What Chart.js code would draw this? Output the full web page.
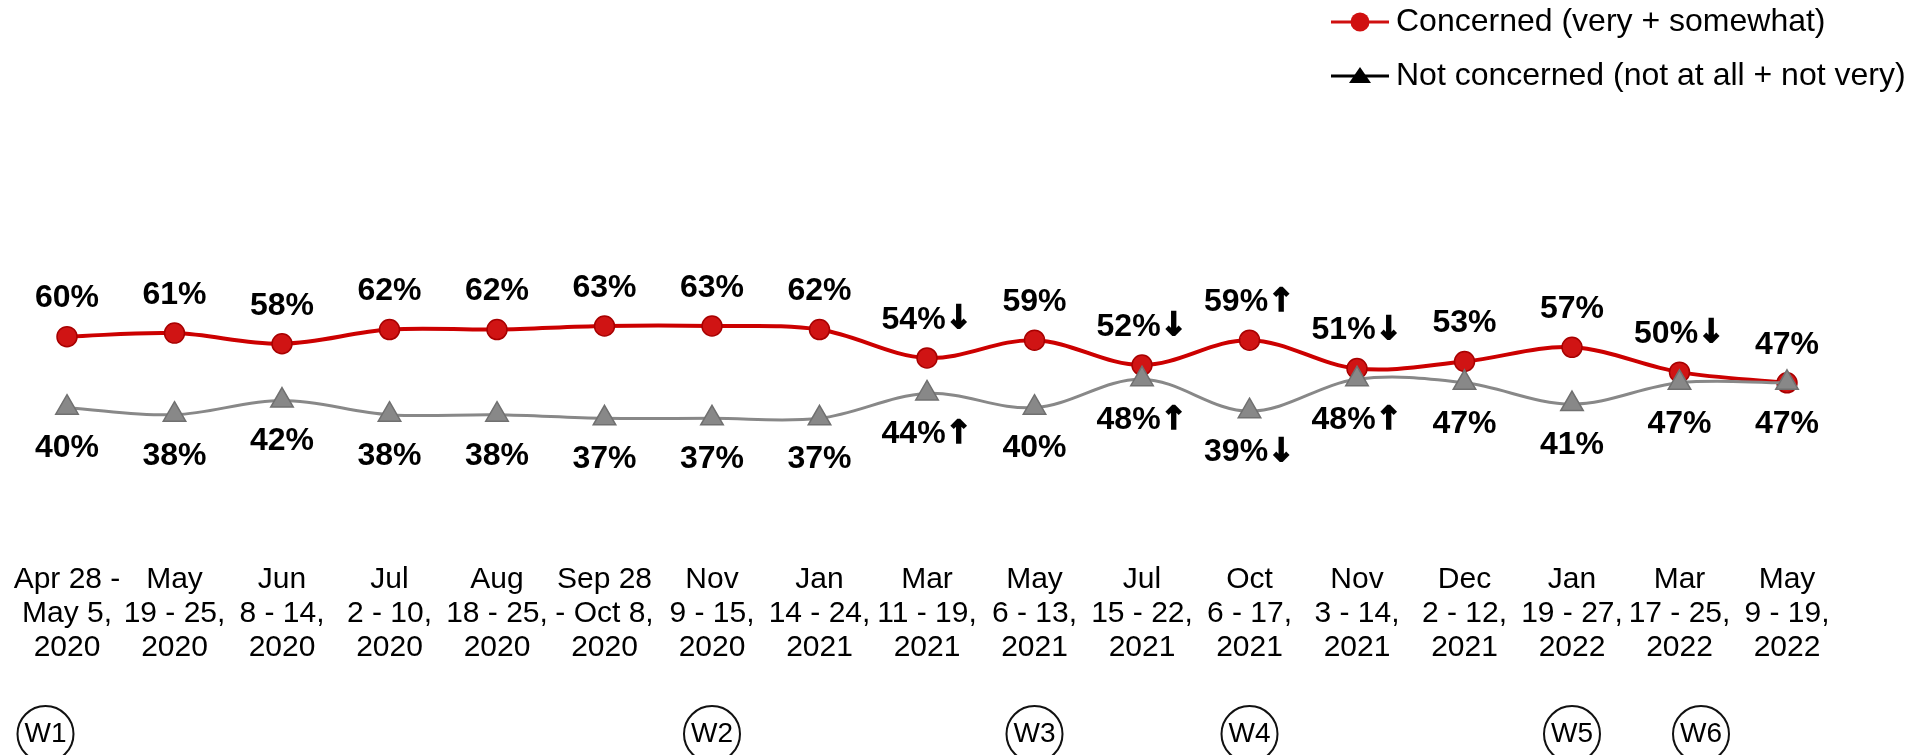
<!DOCTYPE html>
<html>
<head>
<meta charset="utf-8">
<title>Concern over time</title>
<script src="https://cdn.jsdelivr.net/npm/chart.js@4.4.1/dist/chart.umd.min.js"></script>
<style>
  body { margin: 0; background: #fff; }
  #wrap { width: 1919px; height: 755px; position: relative; }
</style>
</head>
<body>
<div id="wrap"><canvas id="myChart"></canvas></div>
<script>
// survey periods
var dateLabels = [
  ['Apr 28 -', 'May 5,', '2020'],
  ['May', '19 - 25,', '2020'],
  ['Jun', '8 - 14,', '2020'],
  ['Jul', '2 - 10,', '2020'],
  ['Aug', '18 - 25,', '2020'],
  ['Sep 28', '- Oct 8,', '2020'],
  ['Nov', '9 - 15,', '2020'],
  ['Jan', '14 - 24,', '2021'],
  ['Mar', '11 - 19,', '2021'],
  ['May', '6 - 13,', '2021'],
  ['Jul', '15 - 22,', '2021'],
  ['Oct', '6 - 17,', '2021'],
  ['Nov', '3 - 14,', '2021'],
  ['Dec', '2 - 12,', '2021'],
  ['Jan', '19 - 27,', '2022'],
  ['Mar', '17 - 25,', '2022'],
  ['May', '9 - 19,', '2022']
];
var concerned = [60, 61, 58, 62, 62, 63, 63, 62, 54, 59, 52, 59, 51, 53, 57, 50, 47];
var notConcerned = [40, 38, 42, 38, 38, 37, 37, 37, 44, 40, 48, 39, 48, 47, 41, 47, 47];
var concernedArrows = ['', '', '', '', '', '', '', '', '\u2193', '', '\u2193', '\u2191', '\u2193', '', '', '\u2193', ''];
var notConcernedArrows = ['', '', '', '', '', '', '', '', '\u2191', '', '\u2191', '\u2193', '\u2191', '', '', '', ''];
// wave markers under the axis (position on the category index scale)
var wavePos = [-0.2, 6, 9, 11, 14, 15.2];
var waveLabels = ['W1', 'W2', 'W3', 'W4', 'W5', 'W6'];

var FONT = "'Liberation Sans', Arial, sans-serif";
var arrows = [concernedArrows, notConcernedArrows];
var labelOffsets = [-38, 41];

function legendIcon(color, shape) {
  var c = document.createElement('canvas');
  c.width = 58; c.height = 24;
  var g = c.getContext('2d');
  g.strokeStyle = color; g.lineWidth = 3;
  g.beginPath(); g.moveTo(0, 12); g.lineTo(58, 12); g.stroke();
  g.fillStyle = color;
  g.beginPath();
  if (shape == 'circle') {
    g.arc(29, 12, 9.5, 0, Math.PI * 2);
  } else {
    g.moveTo(29, 3); g.lineTo(40, 19); g.lineTo(18, 19); g.closePath();
  }
  g.fill();
  return c;
}
var legendIcons = [legendIcon('#d01010', 'circle'), legendIcon('#000', 'triangle')];

var pointLabels = {
  id: 'pointLabels',
  afterDatasetsDraw: function(chart) {
    var ctx = chart.ctx;
    var numFont = 'bold 32px ' + FONT;
    var arrowFont = "bold 32px 'DejaVu Sans', " + FONT;
    ctx.save();
    ctx.fillStyle = '#000';
    ctx.strokeStyle = '#000';
    ctx.lineWidth = 1.6;
    ctx.textAlign = 'left';
    ctx.textBaseline = 'middle';
    chart.data.datasets.forEach(function(ds, i) {
      chart.getDatasetMeta(i).data.forEach(function(pt, j) {
        var txt = ds.data[j] + '%', arr = arrows[i][j];
        ctx.font = numFont;
        var w1 = ctx.measureText(txt).width, w2 = 0;
        if (arr) { ctx.font = arrowFont; w2 = ctx.measureText(arr).width; }
        var x0 = pt.x - (w1 + w2) / 2, y = pt.y + labelOffsets[i];
        ctx.font = numFont;
        ctx.fillText(txt, x0, y);
        if (arr) {
          ctx.font = arrowFont;
          ctx.fillText(arr, x0 + w1, y);
          ctx.strokeText(arr, x0 + w1, y);
        }
      });
    });
    ctx.restore();
  }
};

var waveCircles = {
  id: 'waveCircles',
  afterDraw: function(chart) {
    var s = chart.scales.xw, ctx = chart.ctx;
    ctx.save();
    ctx.strokeStyle = '#111';
    ctx.lineWidth = 2;
    s.getLabelItems().forEach(function(it) {
      var x = it.options.translation[0];
      var y = it.options.translation[1] + it.textOffset;
      ctx.beginPath();
      ctx.ellipse(x, y, 28, 28, 0, 0, Math.PI * 2);
      ctx.stroke();
    });
    ctx.restore();
  }
};

// legend sits top-right, above the plot
var legendSpot = {
  id: 'legendSpot',
  afterLayout: function(chart) {
    var lg = chart.legend;
    lg.left = 1318; lg.right = chart.width;
    lg.top = -16; lg.bottom = 140;
    lg.width = lg.right - lg.left; lg.height = lg.bottom - lg.top;
  }
};

var ctx = document.getElementById('myChart').getContext('2d');
var myChart = new Chart(ctx, {
  type: 'line',
  data: {
    labels: dateLabels,
    datasets: [{
      label: 'Concerned (very + somewhat)',
      data: concerned,
      borderColor: '#cc0000',
      borderWidth: 4,
      pointStyle: 'circle',
      pointRadius: 10,
      pointBackgroundColor: '#d01414',
      pointBorderColor: '#a80000',
      pointBorderWidth: 1.5,
      tension: 0.35,
      order: 1
    }, {
      label: 'Not concerned (not at all + not very)',
      data: notConcerned,
      borderColor: '#888888',
      borderWidth: 3,
      pointStyle: 'triangle',
      pointRadius: 13,
      pointBackgroundColor: '#888888',
      pointBorderColor: '#707070',
      pointBorderWidth: 1.5,
      tension: 0.35,
      order: 0
    }]
  },
  options: {
    responsive: true,
    maintainAspectRatio: false,
    animation: false,
    devicePixelRatio: 1,
    events: [],
    layout: { padding: { top: 200, left: 67, right: 132, bottom: 0 } },
    plugins: {
      tooltip: { enabled: false },
      legend: {
        position: 'chartArea',
        align: 'start',
        labels: {
          font: { family: FONT, size: 32 },
          color: '#000',
          padding: 22,
          usePointStyle: true,
          pointStyleWidth: 40,
          generateLabels: function(chart) {
            return chart.data.datasets.map(function(ds, i) {
              return {
                text: ds.label, pointStyle: legendIcons[i],
                fillStyle: ds.borderColor, strokeStyle: ds.borderColor,
                lineWidth: 0, hidden: false, datasetIndex: i, fontColor: '#000'
              };
            });
          }
        }
      }
    },
    scales: {
      y: { display: false, min: 7.5, max: 98.5 },
      x: {
        offset: false,
        grid: { display: false, drawTicks: true, tickLength: 30 },
        border: { display: false },
        ticks: {
          autoSkip: false, maxRotation: 0, padding: 10, color: '#000',
          font: { family: FONT, size: 30, lineHeight: '34px' }
        }
      },
      xw: {
        type: 'linear', position: 'bottom', min: 0, max: 16,
        grid: { display: false, drawTicks: true, tickLength: 38 },
        border: { display: false },
        afterBuildTicks: function(s) {
          s.ticks = wavePos.map(function(v) { return { value: v }; });
        },
        ticks: {
          autoSkip: false, maxRotation: 0, padding: 6, color: '#000',
          font: { family: FONT, size: 28, lineHeight: '30px' },
          callback: function(v, i) { return waveLabels[i]; }
        }
      }
    }
  },
  plugins: [pointLabels, waveCircles, legendSpot]
});
</script>
</body>
</html>
